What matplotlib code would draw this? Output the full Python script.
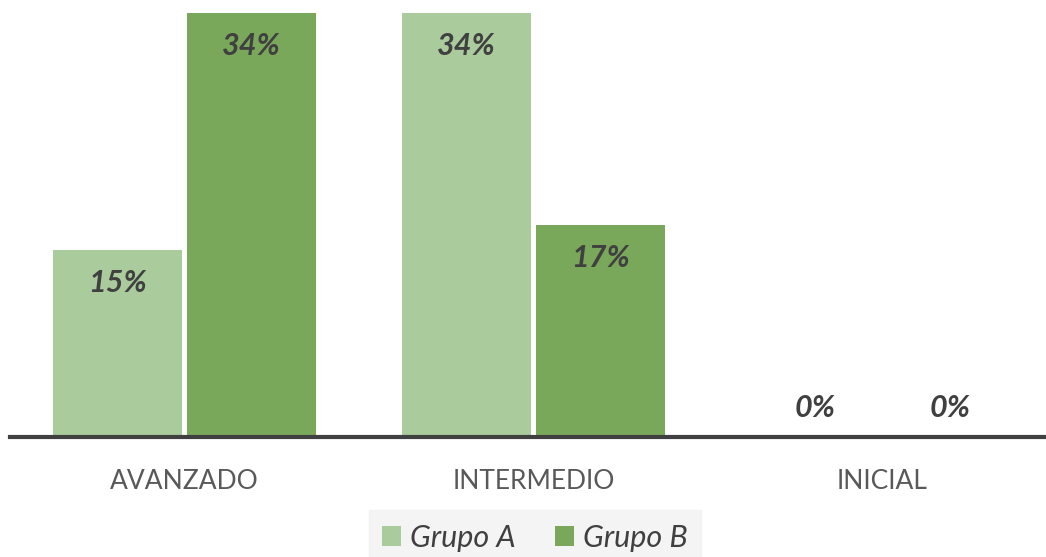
import numpy as np
from matplotlib import pyplot as plt

categorias = ['AVANZADO', 'INTERMEDIO', 'INICIAL']
grupo_a = [15, 34, 0]
grupo_b = [34, 17, 0]
series = ['Grupo A', 'Grupo B']

color_a = '#aacb9c'
color_b = '#7aa85b'
texto = '#404040'

plt.rcParams['font.family'] = ['Lato', 'DejaVu Sans']

fig = plt.figure(figsize=(10.46, 5.57), dpi=100)
W, H = 1046, 557
# caja de ejes en pixeles: izquierda, base, ancho, alto
ax = fig.add_axes([10 / W, (H - 437) / H, 1047 / W, 424 / H])

x = np.arange(len(categorias))
ancho = 0.37
sep = 0.0075
barras_a = ax.bar(x - ancho / 2 - sep, grupo_a, ancho, color=color_a, label=series[0])
barras_b = ax.bar(x + ancho / 2 + sep, grupo_b, ancho, color=color_b, label=series[1])

ax.set_xlim(-0.5, 2.5)
ax.set_ylim(0, 34)

for barras, valores in ((barras_a, grupo_a), (barras_b, grupo_b)):
    for b, v in zip(barras, valores):
        dy = -33 if v > 0 else 29
        ax.annotate(f'{v}%', (b.get_x() + b.get_width() / 2, v),
                    xytext=(0, dy), textcoords='offset pixels',
                    ha='center', va='center', fontsize=22,
                    fontweight='bold', fontstyle='italic', color=texto)

for s in ['top', 'right', 'left']:
    ax.spines[s].set_visible(False)
ax.spines['bottom'].set_color('#404040')
ax.spines['bottom'].set_linewidth(3)
ax.set_yticks([])
ax.set_xticks(x)
ax.set_xticklabels(categorias, fontsize=19, color='#595959')
ax.tick_params(axis='x', length=0, pad=23)

leg = fig.legend(loc='upper center', bbox_to_anchor=(535 / W, (H - 510) / H),
                 ncol=2, frameon=True, fancybox=False,
                 prop={'style': 'italic', 'size': 22},
                 handlelength=0.6, handleheight=0.6, handletextpad=0.3,
                 columnspacing=1.3, borderpad=0.45, borderaxespad=0)
leg.get_frame().set_facecolor('#f2f2f2')
leg.get_frame().set_edgecolor('#f2f2f2')
for t in leg.get_texts():
    t.set_color(texto)

fig.savefig('out.png', dpi=100)
